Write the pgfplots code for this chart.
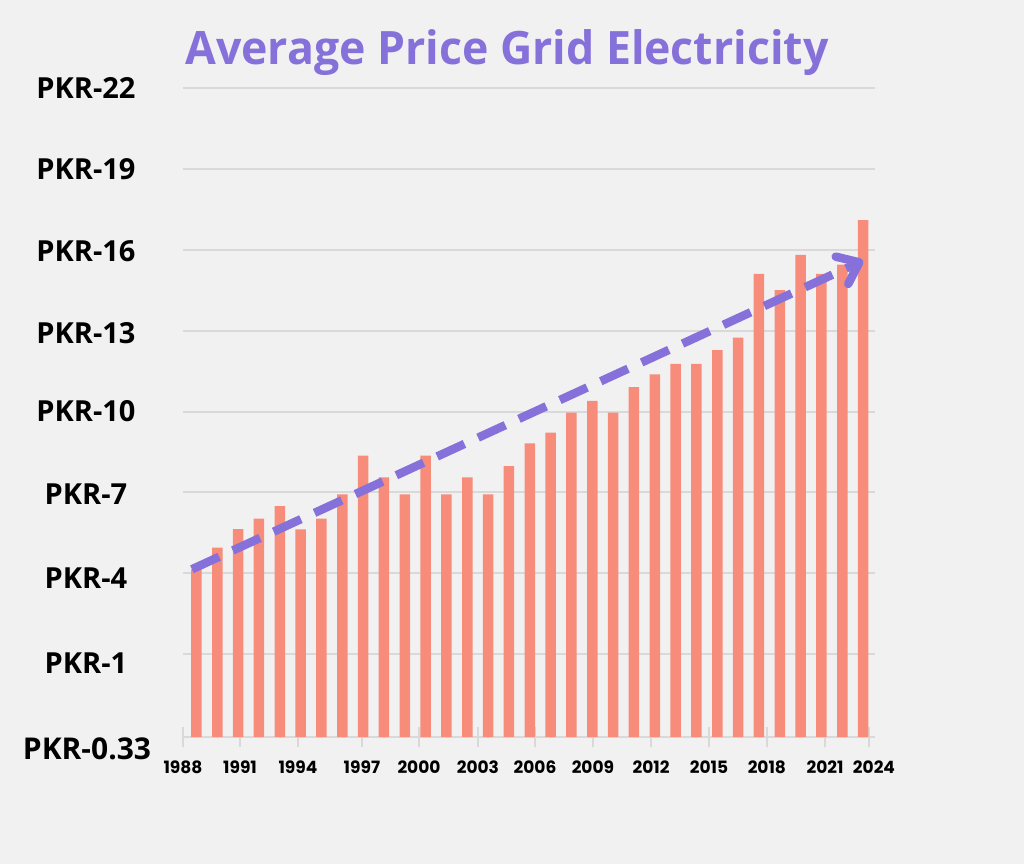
\documentclass[border=0pt]{standalone}
\usepackage{fontspec}
\setmainfont{Open Sans}
\newfontfamily\xfont{Poppins}
\usepackage{pgfplots}
\pgfplotsset{compat=1.18}
\usetikzlibrary{arrows.meta}
\definecolor{bg}{RGB}{241,241,241}
\definecolor{barc}{RGB}{247,140,123}
\definecolor{purp}{RGB}{134,112,218}
\definecolor{gridc}{RGB}{217,217,217}
\begin{document}
\begin{tikzpicture}
\fill[bg] (-183pt,-127pt) rectangle (841pt,737pt);
\begin{axis}[
 at={(0,0)}, anchor=south west,
 scale only axis, width=692pt, height=649pt,
 xmin=-0.648, xmax=32.57, ymin=0, ymax=24.07,
 clip=false,
 y filter/.expression={y+2.07},
 axis x line*=bottom, axis y line*=left,
 y axis line style={draw=none},
 x axis line style={draw=gridc, line width=2pt},
 ytick={2.74,5.90,9.01,12.09,14.99,18.03,21.07,24.07},
 yticklabels={PKR-1,PKR-4,PKR-7,PKR-10,PKR-13,PKR-16,PKR-19,PKR-22},
 extra y ticks={3.07,6.07,9.07,12.07,15.07,18.07,21.07,24.07},
 extra y tick labels={},
 extra y tick style={grid=major, grid style={draw=gridc, line width=2pt}, tick style={draw=none}},
 ytick style={draw=none},
 yticklabel style={anchor=center, xshift=-87pt, font=\fontsize{29}{29}\selectfont\bfseries},
 xtick={-0.65,2.09,4.87,7.94,10.68,13.51,16.25,19.03,21.82,24.6,27.38,30.17,32.28},
 xticklabels={1988,1991,1994,1997,2000,2003,2006,2009,2012,2015,2018,2021,\hspace*{10pt}2024},
 xtick style={draw=gridc, line width=2.5pt},
 major tick length=20pt, tick align=center,
 xticklabel style={font=\xfont\fontsize{17}{17}\selectfont\bfseries, yshift=-10pt},
]
\addplot[ybar, bar width=10.5pt, fill=barc, draw=none] coordinates {
(0,4.15) (1,4.95) (2,5.64) (3,6.03) (4,6.49) (5,5.63) (6,6.03) (7,6.93)
(8,8.37) (9,7.56) (10,6.93) (11,8.37) (12,6.93) (13,7.56) (14,6.93) (15,7.98)
(16,8.82) (17,9.22) (18,9.96) (19,10.40) (20,9.96) (21,10.91) (22,11.38) (23,11.77)
(24,11.77) (25,12.28) (26,12.74) (27,15.11) (28,14.50) (29,15.81) (30,15.11) (31,15.45)
(32,17.10)
};
\addplot[draw=purp, line width=8.5pt, dash pattern=on 30pt off 15pt,
 -{Straight Barb[length=19pt, width=30pt, round]}] coordinates {(-0.22,4.15) (32.0,15.6)};
\node[font=\fontsize{46}{46}\selectfont\bfseries, text=purp] at (axis description cs:0.468,1.054)
 {\scalebox{0.97}[1]{Average Price Grid Electricity}};
\node[font=\fontsize{30}{30}\selectfont\bfseries, anchor=center, xshift=-96pt] at (axis description cs:0,-0.0185) {PKR-0.33};
\end{axis}
\end{tikzpicture}
\end{document}
